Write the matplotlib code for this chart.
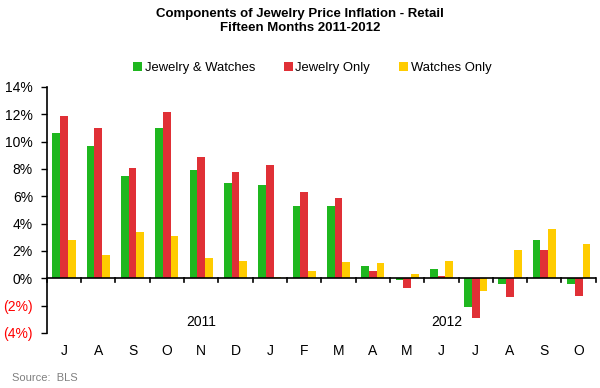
import numpy as np
import matplotlib
matplotlib.use("Agg")
from matplotlib import pyplot as plt

plt.rcParams['font.family'] = ['Liberation Sans', 'DejaVu Sans']

# %%
# Data
months = ["J", "A", "S", "O", "N", "D", "J", "F", "M", "A", "M", "J", "J", "A", "S", "O"]
jewelry_watches = [10.6, 9.7, 7.5, 11.0, 7.95, 7.0, 6.85, 5.3, 5.3, 0.9, -0.15, 0.68, -2.1, -0.45, 2.8, -0.45]
jewelry_only = [11.9, 11.0, 8.1, 12.2, 8.9, 7.8, 8.3, 6.33, 5.9, 0.54, -0.7, 0.17, -2.9, -1.35, 2.08, -1.28]
watches_only = [2.8, 1.7, 3.4, 3.1, 1.5, 1.27, 0.1, 0.54, 1.2, 1.12, 0.32, 1.27, -0.9, 2.08, 3.62, 2.52]
yticks = [-4, -2, 0, 2, 4, 6, 8, 10, 12, 14]

series = [
    ("Jewelry & Watches", jewelry_watches, "#1fb71f"),
    ("Jewelry Only", jewelry_only, "#e03036"),
    ("Watches Only", watches_only, "#ffcc00"),
]

# %%
fig = plt.figure(figsize=(6, 3.88), dpi=100)
ax = fig.add_axes([0.078, 0.142, 0.915, 0.634])

x = np.arange(len(months))
w = 0.225
for i, (name, vals, col) in enumerate(series):
    ax.bar(x + (i - 1) * w, vals, width=w, color=col, label=name, zorder=2)

ax.set_xlim(-0.5, len(months) - 0.5)
ax.set_ylim(-4, 14)
ax.set_yticks(yticks)
ylabels = [f"({abs(v)}%)" if v < 0 else f"{v}%" for v in yticks]
ax.set_yticklabels(ylabels, fontsize=10)
for lab, v in zip(ax.get_yticklabels(), yticks):
    if v < 0:
        lab.set_color("red")
ax.tick_params(axis="y", direction="out", length=4, width=1, pad=6)

for s in ["top", "right", "bottom"]:
    ax.spines[s].set_visible(False)
ax.spines["left"].set_linewidth(1.2)

# zero line with tick marks between categories
ax.axhline(0, color="black", lw=1.2, zorder=3)
for b in np.arange(-0.5, len(months), 1.0):
    ax.plot([b, b], [0, -0.3], color="black", lw=1.2, zorder=3, clip_on=False)

ax.set_xticks(x)
ax.set_xticklabels(months, fontsize=10)
ax.tick_params(axis="x", length=0, pad=8)

ax.text(4.0, -3.2, "2011", ha="center", va="center", fontsize=10)
ax.text(11.15, -3.2, "2012", ha="center", va="center", fontsize=10)

fig.text(0.5, 0.965, "Components of Jewelry Price Inflation - Retail", ha="center", va="center",
         fontsize=9.5, fontweight="bold")
fig.text(0.5, 0.928, "Fifteen Months 2011-2012", ha="center", va="center",
         fontsize=9.5, fontweight="bold")

fig.legend(loc="center", bbox_to_anchor=(0.52, 0.825), ncol=3, frameon=False, fontsize=9.4,
           handlelength=0.7, handleheight=0.7, handletextpad=0.2, columnspacing=2.2)

fig.text(0.02, 0.025, "Source:  BLS", fontsize=8, color="#808080", va="center")

fig.savefig("out.png", dpi=100)
